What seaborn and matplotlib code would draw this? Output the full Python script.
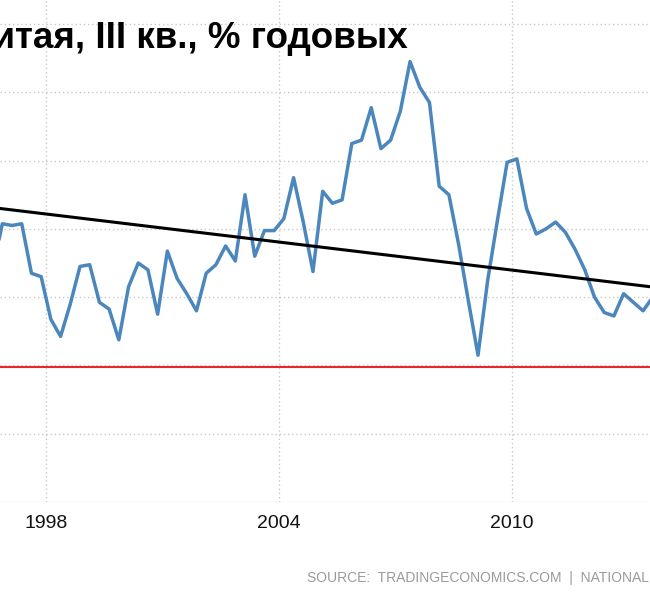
import pandas as pd
import seaborn as sns
import matplotlib.pyplot as plt

# China GDP growth, % y/y, quarterly, starting 1996 Q3
first_quarter = "1996Q3"
gdp_yoy = [
    8.8, 10.15,
    10.1, 10.15, 8.7, 8.6,
    7.35, 6.85, 7.8, 8.9,
    8.95, 7.85, 7.65, 6.75,
    8.3, 9.0, 8.8, 7.5,
    9.35, 8.55, 8.1, 7.6,
    8.7, 8.95, 9.5, 9.06,
    11.0, 9.2, 9.95, 9.95,
    10.3, 11.5, 10.2, 8.75,
    11.1, 10.75, 10.85, 12.5,
    12.6, 13.55, 12.35, 12.6,
    13.45, 14.9, 14.15, 13.7,
    11.25, 11.0, 9.55, 7.9,
    6.3, 8.5, 10.25, 11.95,
    12.05, 10.6, 9.85, 10.0,
    10.2, 9.9, 9.4, 8.8,
    8.0, 7.55, 7.45, 8.1,
    7.85, 7.6, 8.0,
]

# long-term trend line, read at the chart edges
trend_years = [1996.8, 2013.6]
trend_values = [10.6, 8.3]
red_level = 5.95

tick_years = [1998, 2004, 2010]
title_text = "ВВП Китая, III кв., % годовых"
source_text = "SOURCE:  TRADINGECONOMICS.COM  |  NATIONAL BUREAU OF STATISTICS OF CHINA"

periods = pd.period_range(first_quarter, periods=len(gdp_yoy), freq="Q")
df = pd.DataFrame({"t": periods.year + (periods.quarter - 0.5) / 4, "gdp": gdp_yoy})
trend = pd.DataFrame({"t": trend_years, "gdp": trend_values})

sns.set_style("white")
plt.rcParams["font.family"] = ["Liberation Sans", "DejaVu Sans"]

fig = plt.figure(figsize=(6.5, 6), dpi=100)
ax = fig.add_axes([0, 98 / 600, 1, 502 / 600])

ax.axhline(red_level, color="#e8262b", linewidth=1.5, zorder=2)
sns.lineplot(data=df, x="t", y="gdp", ax=ax, color="#4b86bd", linewidth=2.5, zorder=3)
sns.lineplot(data=trend, x="t", y="gdp", ax=ax, color="black", linewidth=2.2, zorder=4)

ax.set_xlim(1996.815, 2013.554)
ax.set_ylim(2, 2 + 502 / 34.14)
ax.set_yticks(range(2, 17, 2))
ax.set_xticks(tick_years)
ax.set_xticklabels([str(y) for y in tick_years])
ax.grid(True, color="#c8c8c8", linestyle=(0, (1, 2)), linewidth=1)
ax.tick_params(axis="y", length=0, labelleft=False)
ax.tick_params(axis="x", length=4, color="#c8c8c8", pad=5, labelsize=14, labelcolor="#111111")
ax.set_xlabel("")
ax.set_ylabel("")
for s in ax.spines.values():
    s.set_visible(False)

fig.text(408 / 650, 1 - 48 / 600, title_text, ha="right", va="baseline",
         fontsize=26.5, fontweight="bold", color="black")
fig.text(307 / 650, 1 - 582 / 600, source_text, ha="left", va="baseline",
         fontsize=10, color="#9a9a9a")

fig.savefig("out.png", dpi=100)
